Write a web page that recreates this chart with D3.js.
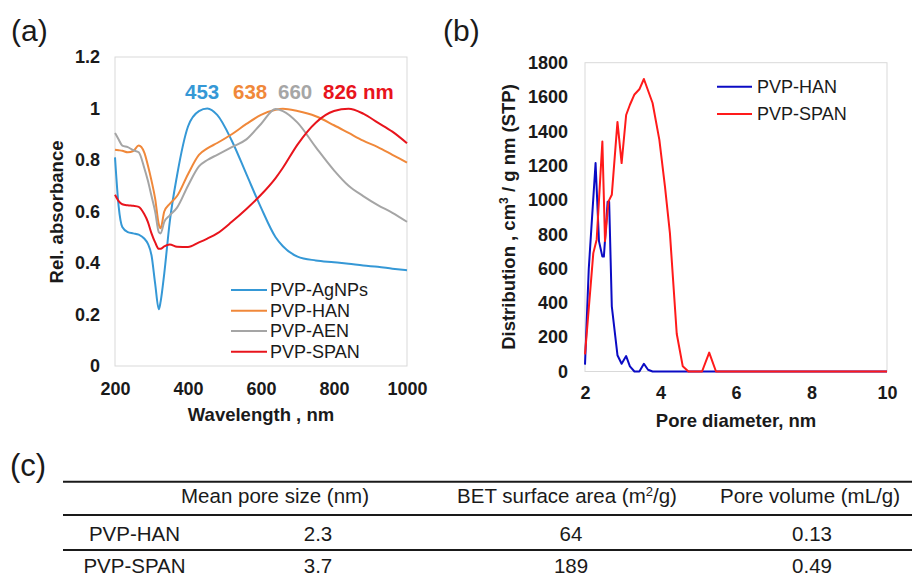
<!DOCTYPE html>
<html>
<head>
<meta charset="utf-8">
<script src="https://cdn.jsdelivr.net/npm/d3@7"></script>
<style>
html,body{margin:0;padding:0;background:#fff;}
svg{display:block;font-family:"Liberation Sans",Arial,sans-serif;}
</style>
</head>
<body>
<script>
// ---------- Panel (a) data ----------
const wavelength = [200,210,220,235,250,265,280,290,300,310,320,325,335,350,370,400,430,453,480,520,560,600,640,660,700,750,800,840,880,920,960,1000];
const absAgNPs = [0.81,0.62,0.54,0.52,0.515,0.51,0.495,0.475,0.43,0.32,0.22,0.25,0.36,0.56,0.74,0.93,0.99,1.0,0.975,0.875,0.745,0.615,0.50,0.465,0.425,0.41,0.403,0.397,0.39,0.385,0.378,0.372];
const absHAN = [0.84,0.838,0.836,0.83,0.835,0.856,0.83,0.78,0.72,0.65,0.55,0.535,0.60,0.63,0.66,0.745,0.82,0.845,0.866,0.90,0.94,0.975,0.995,0.999,0.99,0.97,0.935,0.905,0.875,0.85,0.82,0.79];
const absAEN = [0.905,0.88,0.856,0.85,0.838,0.83,0.77,0.72,0.66,0.60,0.52,0.515,0.56,0.585,0.615,0.70,0.775,0.80,0.82,0.85,0.88,0.94,0.998,0.99,0.945,0.85,0.76,0.70,0.66,0.625,0.595,0.56];
const absSPAN = [0.665,0.64,0.628,0.624,0.622,0.618,0.59,0.56,0.515,0.48,0.455,0.455,0.465,0.472,0.463,0.462,0.48,0.495,0.515,0.56,0.61,0.665,0.73,0.77,0.86,0.945,0.99,0.999,0.98,0.945,0.91,0.865];
const seriesA = ["PVP-AgNPs","PVP-HAN","PVP-AEN","PVP-SPAN"];
const colorsA = ["#3598d6","#f0883a","#a5a5a5","#e8141c"];
const peakLabels = ["453","638","660","826 nm"];
const xTicksA = [200,400,600,800,1000];
const yTicksA = [0,0.2,0.4,0.6,0.8,1,1.2];

// ---------- Panel (b) data ----------
const diamHAN = [2.0,2.1,2.28,2.37,2.46,2.50,2.60,2.64,2.71,2.86,2.97,3.09,3.19,3.31,3.44,3.56,3.67,3.79,10];
const distHAN = [40,600,1215,760,670,670,990,990,380,95,45,90,30,0,0,45,10,0,0];
const diamSPAN = [2.0,2.22,2.31,2.46,2.53,2.62,2.71,2.86,2.97,3.09,3.19,3.31,3.44,3.56,3.79,3.97,4.12,4.25,4.43,4.59,4.74,5.1,5.29,5.47,10];
const distSPAN = [100,690,770,1340,760,990,1030,1455,1215,1495,1555,1615,1645,1705,1565,1350,1075,805,220,30,0,0,110,0,0];
const seriesB = ["PVP-HAN","PVP-SPAN"];
const colorsB = ["#0b0bc4","#ff1a1a"];
const xTicksB = [2,4,6,8,10];
const yTicksB = [0,200,400,600,800,1000,1200,1400,1600,1800];

// ---------- Panel (c) data ----------
const tableHeaders = ["Mean pore size (nm)","BET surface area (m²/g)","Pore volume  (mL/g)"];
const tableSamples = ["PVP-HAN","PVP-SPAN"];
const meanPore = ["2.3","3.7"];
const betArea = ["64","189"];
const poreVolume = ["0.13","0.49"];

const W = 912, H = 580;
const svg = d3.select("body").append("svg").attr("width", W).attr("height", H);

function styleAxis(g){
  g.select(".domain").remove();
  g.selectAll("text").attr("font-size", 18).attr("font-weight", "bold")
   .attr("font-family", "'Liberation Sans',Arial,sans-serif").attr("fill", "#1a1a1a");
}

// ================= Panel (a) =================
const xA = d3.scaleLinear().domain([200,1000]).range([115,407]);
const yA = d3.scaleLinear().domain([0,1.2]).range([366,57]);

svg.append("rect").attr("x",115).attr("y",57).attr("width",407-115).attr("height",366-57)
  .attr("fill","none").attr("stroke","#d9d9d9").attr("stroke-width",1);

svg.append("g").attr("transform","translate(0,366)")
  .call(d3.axisBottom(xA).tickValues(xTicksA).tickSize(0).tickPadding(16).tickFormat(d=>String(d)))
  .call(styleAxis);
svg.append("g").attr("transform","translate(115,0)")
  .call(d3.axisLeft(yA).tickValues(yTicksA).tickSize(0).tickPadding(15).tickFormat(d=>String(d)))
  .call(styleAxis);

const valsA = [absAgNPs, absHAN, absAEN, absSPAN];
const lineA = d3.line().x(d=>xA(d[0])).y(d=>yA(d[1])).curve(d3.curveMonotoneX);
valsA.forEach((vals,i)=>{
  svg.append("path").datum(wavelength.map((w,j)=>[w, vals[j]]))
    .attr("d", lineA).attr("fill","none").attr("stroke", colorsA[i]).attr("stroke-width", 2);
});

// peak labels
const peakX = [185, 233, 278, 323];
const peakText = svg.append("text").attr("y", 99).attr("font-size", 20.5).attr("font-weight","bold");
peakLabels.forEach((t,i)=>{
  svg.append("text").attr("x", peakX[i]).attr("y", 99).attr("font-size", 20.5).attr("font-weight","bold")
    .attr("fill", colorsA[i] === "#a5a5a5" ? "#a6a6a6" : colorsA[i]).text(t);
});

// legend a
const legAy = [290, 310.7, 331, 351.7];
seriesA.forEach((s,i)=>{
  svg.append("line").attr("x1",231).attr("x2",267).attr("y1",legAy[i]).attr("y2",legAy[i])
    .attr("stroke", colorsA[i]).attr("stroke-width", 2);
  svg.append("text").attr("x",270).attr("y",legAy[i]).attr("dy","0.36em")
    .attr("font-size",18).attr("fill","#1a1a1a").text(s);
});

// axis titles a
svg.append("text").attr("x",261).attr("y",421).attr("text-anchor","middle")
  .attr("font-size",18.5).attr("font-weight","bold").attr("fill","#1a1a1a").text("Wavelength , nm");
svg.append("text").attr("transform","translate(63,212) rotate(-90)").attr("text-anchor","middle")
  .attr("font-size",18.5).attr("font-weight","bold").attr("fill","#1a1a1a").text("Rel. absorbance");

svg.append("text").attr("x",11).attr("y",41).attr("font-size",30).attr("fill","#1a1a1a").text("(a)");

// ================= Panel (b) =================
const xB = d3.scaleLinear().domain([2,10]).range([585,887]);
const yB = d3.scaleLinear().domain([0,1800]).range([371.5,62.7]);

svg.append("rect").attr("x",585).attr("y",62.7).attr("width",887-585).attr("height",371.5-62.7)
  .attr("fill","none").attr("stroke","#d9d9d9").attr("stroke-width",1);

svg.append("g").attr("transform","translate(0,371.5)")
  .call(d3.axisBottom(xB).tickValues(xTicksB).tickSize(0).tickPadding(14.5).tickFormat(d=>String(d)))
  .call(styleAxis);
svg.append("g").attr("transform","translate(585,0)")
  .call(d3.axisLeft(yB).tickValues(yTicksB).tickSize(0).tickPadding(17).tickFormat(d=>String(d)))
  .call(styleAxis);

const lineB = d3.line().x(d=>xB(d[0])).y(d=>yB(d[1]));
[[diamHAN,distHAN],[diamSPAN,distSPAN]].forEach((s,i)=>{
  svg.append("path").datum(s[0].map((x,j)=>[x, s[1][j]]))
    .attr("d", lineB).attr("fill","none").attr("stroke", colorsB[i]).attr("stroke-width", 2)
    .attr("stroke-linejoin","round");
});

const legBy = [86.7, 114];
seriesB.forEach((s,i)=>{
  svg.append("line").attr("x1",717).attr("x2",752).attr("y1",legBy[i]).attr("y2",legBy[i])
    .attr("stroke", colorsB[i]).attr("stroke-width", 2);
  svg.append("text").attr("x",757).attr("y",legBy[i]).attr("dy","0.36em")
    .attr("font-size",18).attr("fill","#1a1a1a").text(s);
});

svg.append("text").attr("x",736).attr("y",427).attr("text-anchor","middle")
  .attr("font-size",18.5).attr("font-weight","bold").attr("fill","#1a1a1a").text("Pore diameter, nm");
const yt = svg.append("text").attr("transform","translate(515,217) rotate(-90)").attr("text-anchor","middle")
  .attr("font-size",18.5).attr("font-weight","bold").attr("fill","#1a1a1a");
yt.append("tspan").text("Distribution , cm");
yt.append("tspan").attr("dy",-7).attr("font-size",12).text("3");
yt.append("tspan").attr("dy",7).text(" / g nm (STP)");

svg.append("text").attr("x",443).attr("y",41).attr("font-size",30).attr("fill","#1a1a1a").text("(b)");

// ================= Panel (c) table =================
svg.append("text").attr("x",10).attr("y",476).attr("font-size",31).attr("fill","#1a1a1a").text("(c)");

const lineYs = [481.7, 515, 550];
lineYs.forEach(y=>{
  svg.append("line").attr("x1",63).attr("x2",912).attr("y1",y).attr("y2",y)
    .attr("stroke","#1a1a1a").attr("stroke-width",2);
});

const headerX = [275, 567, 810];
const valueX = [318, 571, 812];
const tf = {size: 20.5};
tableHeaders.forEach((h,i)=>{
  const t = svg.append("text").attr("x", headerX[i]).attr("y", 503).attr("text-anchor","middle")
    .attr("font-size", tf.size).attr("fill","#1a1a1a");
  if (h.indexOf("²") >= 0) {
    const parts = h.split("²");
    t.append("tspan").text(parts[0]);
    t.append("tspan").attr("dy",-7).attr("font-size",13).text("2");
    t.append("tspan").attr("dy",7).text(parts[1]);
  } else {
    t.text(h);
  }
});
const rowY = [541, 573];
const cols = [meanPore, betArea, poreVolume];
tableSamples.forEach((s,r)=>{
  svg.append("text").attr("x",134.5).attr("y",rowY[r]).attr("text-anchor","middle")
    .attr("font-size", tf.size).attr("fill","#1a1a1a").text(s);
  cols.forEach((c,i)=>{
    svg.append("text").attr("x",valueX[i]).attr("y",rowY[r]).attr("text-anchor","middle")
      .attr("font-size", tf.size).attr("fill","#1a1a1a").text(c[r]);
  });
});
</script>
</body>
</html>
